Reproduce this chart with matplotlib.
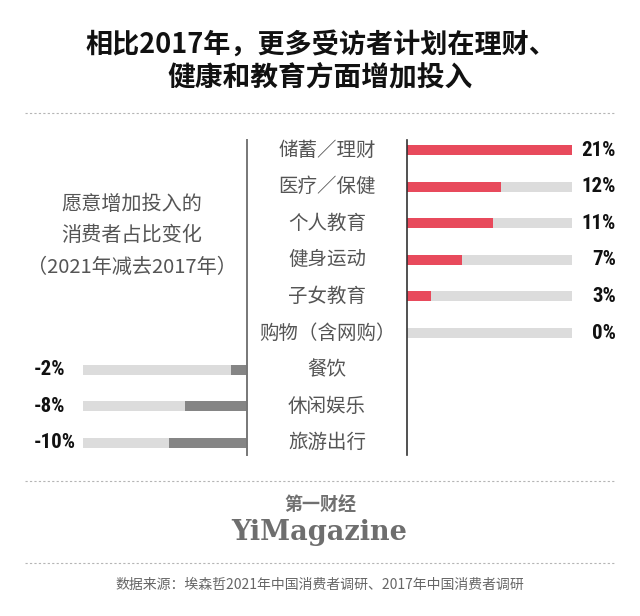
import matplotlib
matplotlib.use("Agg")
import matplotlib.pyplot as plt
from matplotlib import font_manager as fm
import matplotlib.transforms as mtransforms

# ---------------- data ----------------
pos_categories = ["储蓄／理财", "医疗／保健", "个人教育", "健身运动", "子女教育", "购物（含网购）"]
pos_values = [21, 12, 11, 7, 3, 0]
neg_categories = ["餐饮", "休闲娱乐", "旅游出行"]
neg_values = [-2, -8, -10]
full_scale = 21

title_lines = ["相比2017年，更多受访者计划在理财、", "健康和教育方面增加投入"]
side_note = ["愿意增加投入的", "消费者占比变化", "（2021年减去2017年）"]
logo_cn = "第一财经"
logo_en = "YiMagazine"
source_text = "数据来源：埃森哲2021年中国消费者调研、2017年中国消费者调研"

# ---------------- fonts ----------------
names = {f.name for f in fm.fontManager.ttflist}
CJK = "Noto Sans CJK SC"
num_font = "DejaVu Sans"
for cand in ["Roboto Condensed", "Open Sans Condensed", "Liberation Sans Narrow", "Roboto"]:
    if cand in names:
        num_font = cand
        break
plt.rcParams["font.family"] = [CJK, "DejaVu Sans"]

RED = "#e84a5c"
LIGHT = "#dcdcdc"
DARK = "#858585"

W, H = 640, 616
fig = plt.figure(figsize=(W / 100, H / 100), dpi=100)
fig.patch.set_facecolor("white")

def fx(px):
    return px / W

def fy(py):
    return 1 - py / H

# axes geometry (pixels)
top_px, bot_px = 140, 455
row0_px, row_step = 150, 36.6
ylo = (top_px - row0_px) / row_step
yhi = (bot_px - row0_px) / row_step
bar_h = 10 / row_step

ax_r = fig.add_axes([fx(407), fy(bot_px), fx(572) - fx(407), fy(top_px) - fy(bot_px)])
ax_l = fig.add_axes([fx(83), fy(bot_px), fx(247) - fx(83), fy(top_px) - fy(bot_px)])

n_pos = len(pos_values)
pos_rows = list(range(n_pos))
neg_rows = [n_pos + i for i in range(len(neg_values))]

ax_r.barh(pos_rows, [full_scale] * n_pos, height=bar_h, color=LIGHT, zorder=1)
ax_r.barh(pos_rows, pos_values, height=bar_h, color=RED, zorder=2)
ax_l.barh(neg_rows, [-full_scale] * len(neg_values), height=bar_h, color=LIGHT, zorder=1)
ax_l.barh(neg_rows, neg_values, height=bar_h, color=DARK, zorder=2)

ax_r.set_xlim(0, full_scale)
ax_l.set_xlim(-full_scale, 0)
for ax in (ax_r, ax_l):
    ax.set_ylim(yhi, ylo)
    ax.set_xticks([])
    ax.set_yticks([])
    for s in ax.spines.values():
        s.set_visible(False)
    ax.patch.set_alpha(0)

ax_r.spines["left"].set_visible(True)
ax_r.spines["left"].set_color("#333333")
ax_r.spines["left"].set_linewidth(1.2)
ax_l.spines["right"].set_visible(True)
ax_l.spines["right"].set_color("#777777")
ax_l.spines["right"].set_linewidth(1.4)

# value labels
tr_r = mtransforms.blended_transform_factory(fig.transFigure, ax_r.transData)
for r, v in zip(pos_rows, pos_values):
    ax_r.text(fx(616), r, f"{v}%", transform=tr_r, ha="right", va="center",
              fontsize=15, fontweight="bold", family=[num_font], color="#111111")
tr_l = mtransforms.blended_transform_factory(fig.transFigure, ax_l.transData)
for r, v in zip(neg_rows, neg_values):
    ax_l.text(fx(34), r, f"{v}%", transform=tr_l, ha="left", va="center",
              fontsize=15, fontweight="bold", family=[num_font], color="#111111")

# category labels
cats = pos_categories + neg_categories
for r, c in zip(pos_rows + neg_rows, cats):
    ax_r.text(fx(327), r, c, transform=tr_r, ha="center", va="center",
              fontsize=14, fontweight="light", color="#555555")

# side note
for i, line in enumerate(side_note):
    fig.text(fx(132), fy(204 + i * 31.5), line, ha="center", va="center",
             fontsize=14.5, fontweight="light", color="#555555")

# title
fig.text(fx(321), fy(45), title_lines[0], ha="center", va="center",
         fontsize=19.5, fontweight="bold", color="#111111")
fig.text(fx(320), fy(78), title_lines[1], ha="center", va="center",
         fontsize=20, fontweight="bold", color="#111111")

# dotted separators
for y in (113, 481, 563):
    fig.add_artist(plt.Line2D([fx(25), fx(615)], [fy(y), fy(y)], transform=fig.transFigure,
                              color="#b5b5b5", linewidth=0.8, linestyle=(0, (2, 2))))

# logo
fig.text(fx(320), fy(505), logo_cn, ha="center", va="center", fontsize=13,
         fontweight="bold", color="#707070")
fig.text(fx(319), fy(532), logo_en, ha="center", va="center", fontsize=19.5,
         fontweight="bold", family=["DejaVu Serif"], color="#6e6e6e")

# source
fig.text(fx(320), fy(585), source_text, ha="center", va="center", fontsize=10,
         color="#666666")

fig.savefig("out.png", dpi=100, facecolor="white")
